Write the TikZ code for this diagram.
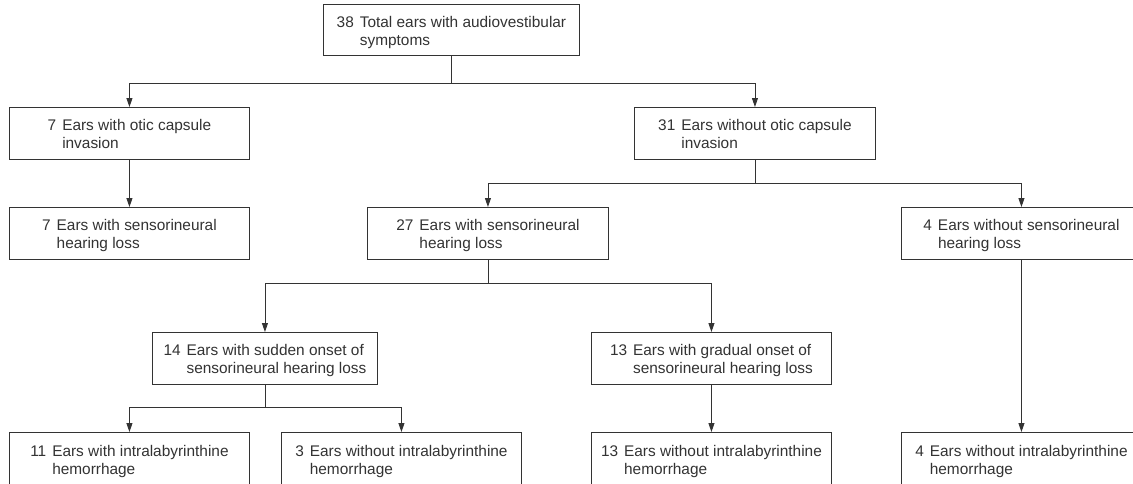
\documentclass[tikz,border=0pt]{standalone}
\usepackage{fontspec}
\setmainfont{Liberation Sans}
\usetikzlibrary{arrows.meta}
\definecolor{ink}{HTML}{333333}
\newcommand{\entrytext}[3]{\begin{tabular}[t]{@{}r@{\hspace{6pt}}l@{}}#1 & #2\\ & #3\end{tabular}}
\begin{document}
\begin{tikzpicture}[x=1pt,y=-1pt,
  box/.style={draw=ink, line width=0.9pt, rectangle, anchor=north west,
    minimum height=52pt, minimum width=240pt, inner sep=0pt, text=ink,
    font=\fontsize{15.4}{18}\selectfont, text height=15pt, text depth=20pt},
  conn/.style={draw=ink, line width=0.9pt},
  arr/.style={conn, -{Triangle[length=9pt,width=6pt]}}]
\path[use as bounding box, fill=white] (0,0) rectangle (1133,483);

\node[box, minimum width=256pt, minimum height=51pt] (root) at (323,4) {\entrytext{38}{Total ears with audiovestibular}{symptoms}};
\node[box] (otic) at (9,107) {\entrytext{7}{Ears with otic capsule}{invasion}};
\node[box, minimum width=241pt] (nootic) at (634,107) {\entrytext{31}{Ears without otic capsule}{invasion}};
\node[box] (snhlA) at (9,207) {\entrytext{7}{Ears with sensorineural}{hearing loss}};
\node[box, minimum width=241pt] (snhlB) at (367,207) {\entrytext{27}{Ears with sensorineural}{hearing loss}};
\node[box] (nosnhl) at (901,207) {\entrytext{4}{Ears without sensorineural}{hearing loss}};
\node[box, minimum width=225pt] (sudden) at (152,332) {\entrytext{14}{Ears with sudden onset of}{sensorineural hearing loss}};
\node[box] (gradual) at (591,332) {\entrytext{13}{Ears with gradual onset of}{sensorineural hearing loss}};
\node[box, minimum height=53pt] (ilhA) at (9,432) {\entrytext{11}{Ears with intralabyrinthine}{hemorrhage}};
\node[box, minimum height=53pt] (ilhB) at (281,432) {\entrytext{3}{Ears without intralabyrinthine}{hemorrhage}};
\node[box, minimum height=53pt] (ilhC) at (591,432) {\entrytext{13}{Ears without intralabyrinthine}{hemorrhage}};
\node[box, minimum height=53pt] (ilhD) at (901,432) {\entrytext{4}{Ears without intralabyrinthine}{hemorrhage}};

\draw[conn] (root.south) -- ++(0,28) coordinate (j0);
\draw[arr] (j0) -| (otic.north);
\draw[arr] (j0) -| (nootic.north);
\draw[arr] (otic.south) -- (snhlA.north);
\draw[conn] (nootic.south) -- ++(0,24) coordinate (j1);
\draw[arr] (j1) -| (snhlB.north);
\draw[arr] (j1) -| (nosnhl.north);
\draw[conn] (snhlB.south) -- ++(0,24) coordinate (j2);
\draw[arr] (j2) -| (sudden.north);
\draw[arr] (j2) -| (gradual.north);
\draw[conn] (sudden.south) -- ++(0,23) coordinate (j3);
\draw[arr] (j3) -| (ilhA.north);
\draw[arr] (j3) -| (ilhB.north);
\draw[arr] (gradual.south) -- (ilhC.north);
\draw[arr] (nosnhl.south) -- (ilhD.north);
\end{tikzpicture}
\end{document}
